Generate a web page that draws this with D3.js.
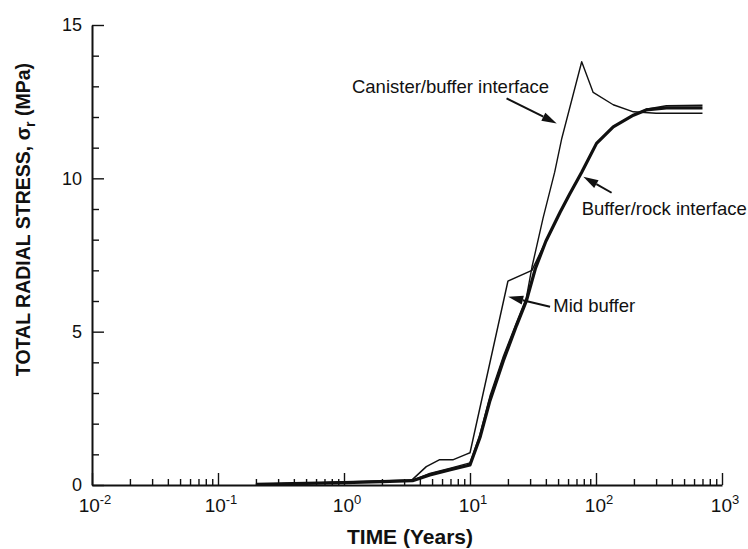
<!DOCTYPE html>
<html>
<head>
<meta charset="utf-8">
<script src="https://cdn.jsdelivr.net/npm/d3@7"></script>
<style>
  html, body { margin: 0; padding: 0; background: #fff; }
  svg { display: block; }
  text { font-family: "Liberation Sans", Arial, Helvetica, sans-serif; fill: #111; }
</style>
</head>
<body>
<svg id="chart" width="748" height="549"></svg>
<script>
// ---- data (years, MPa) ----
const canisterYears = [0.2, 0.5, 1, 2, 3.5, 4.8, 7, 10, 12, 14.4, 18.4, 23.4, 28, 31, 38, 47, 53.5, 77, 95, 137, 198, 300, 700];
const canisterStress = [0.03, 0.06, 0.09, 0.12, 0.15, 0.38, 0.55, 0.72, 1.65, 2.9, 4.2, 5.3, 6.1, 7.1, 8.7, 10.2, 11.3, 13.8, 12.8, 12.4, 12.17, 12.12, 12.12];

const rockYears = [0.2, 0.5, 1, 2, 3.5, 4.8, 7, 10, 12, 14.4, 18.4, 23.4, 28, 33, 40, 52, 62, 77, 101, 137, 198, 250, 362, 700];
const rockStress = [0.02, 0.05, 0.08, 0.11, 0.14, 0.33, 0.5, 0.65, 1.55, 2.75, 4.05, 5.2, 6.0, 7.05, 7.95, 8.9, 9.5, 10.2, 11.14, 11.68, 12.06, 12.23, 12.3, 12.3];

const midYears = [0.2, 0.5, 1, 2, 3.45, 4.5, 5.7, 7.3, 9.3, 10, 20, 31, 40, 52, 62, 77, 101, 137, 198, 250, 362, 700];
const midStress = [0.03, 0.06, 0.1, 0.13, 0.16, 0.6, 0.82, 0.82, 1.0, 1.05, 6.65, 7.0, 7.95, 8.9, 9.5, 10.2, 11.14, 11.68, 12.06, 12.25, 12.37, 12.38];

const xMajorTicks = [0.01, 0.1, 1, 10, 100, 1000];
const xTickExponents = ["-2", "-1", "0", "1", "2", "3"];
const yMajorTicks = [0, 5, 10, 15];
const yMinorTicks = [1, 2, 3, 4, 6, 7, 8, 9, 11, 12, 13, 14];

const xTitle = "TIME (Years)";
const yTitleMain = "TOTAL RADIAL STRESS, σ";
const yTitleSub = "r";
const yTitleEnd = " (MPa)";

// annotations: [label, textYear, textStress, anchor, arrowFromYear, arrowFromStress, arrowToYear, arrowToStress]
const annotations = [
  ["Canister/buffer interface", 42.4, 12.77, "end", 19.5, 12.61, 48.8, 11.79],
  ["Buffer/rock interface", 76.9, 8.8, "start", 133, 9.53, 79.3, 10.05],
  ["Mid buffer", 45.8, 5.65, "start", 43.2, 5.81, 20.1, 6.14]
];

// ---- layout ----
const svg = d3.select("#chart");
const x = d3.scaleLog().domain([0.01, 1000]).range([92, 722]);
const y = d3.scaleLinear().domain([0, 15]).range([485, 25]);

// minor x ticks
const xMinorTicks = [];
for (let d = 0.01; d < 1000; d *= 10) {
  for (let k = 2; k <= 9; k++) xMinorTicks.push(+(d * k).toPrecision(3));
}

// ---- axes ----
const gx = svg.append("g").attr("transform", `translate(0,${y(0)})`);
gx.call(d3.axisBottom(x).tickValues(xMajorTicks).tickSize(-12).tickSizeOuter(0).tickFormat(""));
const gxm = svg.append("g").attr("transform", `translate(0,${y(0)})`);
gxm.call(d3.axisBottom(x).tickValues(xMinorTicks).tickSize(-6).tickSizeOuter(0).tickFormat(""));
gxm.select(".domain").remove();

const gy = svg.append("g").attr("transform", `translate(${x(0.01)},0)`);
gy.call(d3.axisLeft(y).tickValues(yMajorTicks).tickSize(-12).tickSizeOuter(0).tickFormat(""));
const gym = svg.append("g").attr("transform", `translate(${x(0.01)},0)`);
gym.call(d3.axisLeft(y).tickValues(yMinorTicks).tickSize(-7).tickSizeOuter(0).tickFormat(""));
gym.select(".domain").remove();

svg.selectAll(".domain").attr("stroke", "#111").attr("stroke-width", 2);
svg.selectAll(".tick line").attr("stroke", "#111").attr("stroke-width", 1.4);

// x tick labels
xMajorTicks.forEach((v, i) => {
  const t = svg.append("text")
    .attr("x", x(v) + 3)
    .attr("y", 512)
    .attr("text-anchor", "middle")
    .attr("font-size", 19);
  t.append("tspan").text("10");
  t.append("tspan").attr("dy", -8).attr("font-size", 13).text(xTickExponents[i]);
});

// y tick labels
yMajorTicks.forEach(v => {
  svg.append("text")
    .attr("x", 82)
    .attr("y", y(v))
    .attr("dy", "0.36em")
    .attr("text-anchor", "end")
    .attr("font-size", 18)
    .text(v);
});

// axis titles
svg.append("text")
  .attr("x", 410).attr("y", 544)
  .attr("text-anchor", "middle")
  .attr("font-size", 21).attr("font-weight", "bold")
  .text(xTitle);

const yt = svg.append("text")
  .attr("transform", `translate(30,${y(3.55)}) rotate(-90)`)
  .attr("text-anchor", "start")
  .attr("font-size", 19.5).attr("font-weight", "bold");
yt.append("tspan").text(yTitleMain);
yt.append("tspan").attr("dy", 5).attr("font-size", 14).text(yTitleSub);
yt.append("tspan").attr("dy", -5).text(yTitleEnd);

// ---- curves ----
const line = d3.line().x(d => x(d[0])).y(d => y(d[1]));
const series = [
  { years: rockYears, stress: rockStress, width: 3.2 },
  { years: midYears, stress: midStress, width: 1.5 },
  { years: canisterYears, stress: canisterStress, width: 1.4 }
];
series.forEach(s => {
  svg.append("path")
    .datum(s.years.map((t, i) => [t, s.stress[i]]))
    .attr("d", line)
    .attr("fill", "none")
    .attr("stroke", "#111")
    .attr("stroke-width", s.width)
    .attr("stroke-linejoin", "round");
});

// ---- annotations ----
annotations.forEach(a => {
  svg.append("text")
    .attr("x", x(a[1])).attr("y", y(a[2]))
    .attr("text-anchor", a[3])
    .attr("font-size", 18.5)
    .text(a[0]);
  const x1 = x(a[4]), y1 = y(a[5]), x2 = x(a[6]), y2 = y(a[7]);
  const ang = Math.atan2(y2 - y1, x2 - x1);
  const L = 15, W = 4.5;
  const bx = x2 - L * Math.cos(ang), by = y2 - L * Math.sin(ang);
  svg.append("line")
    .attr("x1", x1).attr("y1", y1).attr("x2", bx).attr("y2", by)
    .attr("stroke", "#111").attr("stroke-width", 2);
  const px = -Math.sin(ang) * W, py = Math.cos(ang) * W;
  svg.append("path")
    .attr("d", `M${x2},${y2}L${bx + px},${by + py}L${bx - px},${by - py}Z`)
    .attr("fill", "#111");
});
</script>
</body>
</html>
